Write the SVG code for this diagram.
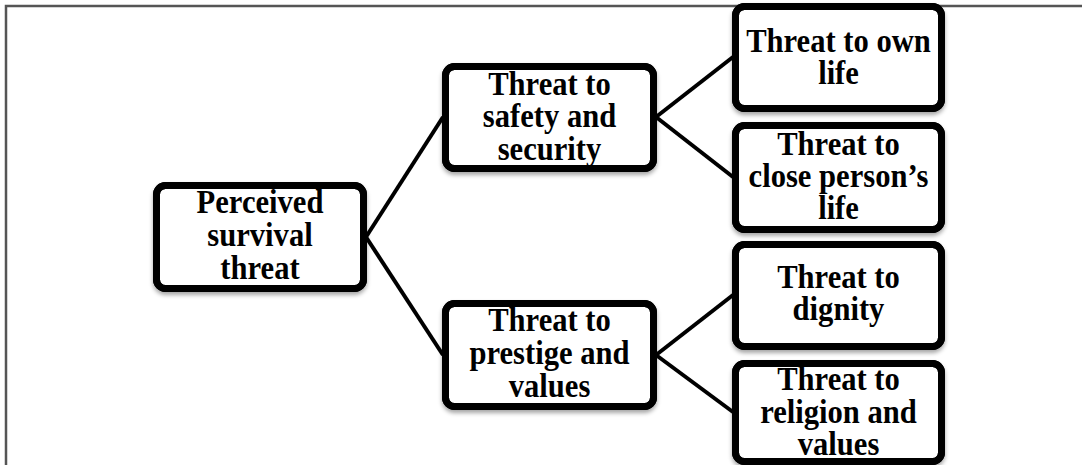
<svg xmlns="http://www.w3.org/2000/svg" width="1082" height="465" viewBox="0 0 1082 465">
  <defs>
    <filter id="shadow" x="-10%" y="-10%" width="120%" height="130%">
      <feDropShadow dx="0" dy="3" stdDeviation="2" flood-color="#000" flood-opacity="0.35"/>
    </filter>
  </defs>
  <style>
    .frame { fill: none; stroke: #555; stroke-width: 2.5; }
    .edge { stroke: #000; stroke-width: 4; fill: none; }
    .bg { fill: #fff; stroke: #000; stroke-width: 7; filter: url(#shadow); }
    .border { fill: none; stroke: #000; stroke-width: 7; }
    .label { font-family: "Liberation Serif", "Times New Roman", serif; font-weight: bold; font-size: 34px; fill: #000; text-anchor: middle; }
  </style>

  <!-- outer frame: top and left edges -->
  <path class="frame" d="M6,1082 V6 H1082"/>

  <g id="connectors">
    <line class="edge" x1="366" y1="237" x2="443" y2="117"/>
    <line class="edge" x1="366" y1="237" x2="443" y2="355"/>
    <line class="edge" x1="656" y1="117" x2="733" y2="57"/>
    <line class="edge" x1="656" y1="117" x2="733" y2="177"/>
    <line class="edge" x1="656" y1="355" x2="733" y2="295"/>
    <line class="edge" x1="656" y1="355" x2="733" y2="412"/>
  </g>

  <!-- labels are set in a slightly condensed serif (90% width) -->
  <g id="perceived-survival-threat">
    <rect class="bg" x="156.5" y="185.5" width="207" height="103" rx="9"/>
    <g transform="translate(260 0) scale(0.9 1)">
      <text class="label" x="0" y="213">Perceived</text>
      <text class="label" x="0" y="246">survival</text>
      <text class="label" x="0" y="279">threat</text>
    </g>
    <rect class="border" x="156.5" y="185.5" width="207" height="103" rx="9"/>
  </g>

  <g id="safety-security">
    <rect class="bg" x="445.5" y="66.5" width="208" height="102" rx="9"/>
    <g transform="translate(549.5 0) scale(0.9 1)">
      <text class="label" x="0" y="95">Threat to</text>
      <text class="label" x="0" y="127">safety and</text>
      <text class="label" x="0" y="160">security</text>
    </g>
    <rect class="border" x="445.5" y="66.5" width="208" height="102" rx="9"/>
  </g>

  <g id="prestige-values">
    <rect class="bg" x="445.5" y="303.5" width="208" height="103" rx="9"/>
    <g transform="translate(549.5 0) scale(0.9 1)">
      <text class="label" x="0" y="331">Threat to</text>
      <text class="label" x="0" y="364">prestige and</text>
      <text class="label" x="0" y="397">values</text>
    </g>
    <rect class="border" x="445.5" y="303.5" width="208" height="103" rx="9"/>
  </g>

  <g id="own-life">
    <rect class="bg" x="735.5" y="6.5" width="206" height="102" rx="9"/>
    <g transform="translate(838.5 0) scale(0.9 1)">
      <text class="label" x="0" y="52">Threat to own</text>
      <text class="label" x="0" y="84">life</text>
    </g>
    <rect class="border" x="735.5" y="6.5" width="206" height="102" rx="9"/>
  </g>

  <g id="close-person-life">
    <rect class="bg" x="735.5" y="125.5" width="206" height="104" rx="9"/>
    <g transform="translate(838.5 0) scale(0.9 1)">
      <text class="label" x="0" y="155">Threat to</text>
      <text class="label" x="0" y="187">close person’s</text>
      <text class="label" x="0" y="219">life</text>
    </g>
    <rect class="border" x="735.5" y="125.5" width="206" height="104" rx="9"/>
  </g>

  <g id="dignity">
    <rect class="bg" x="735.5" y="244.5" width="206" height="102" rx="9"/>
    <g transform="translate(838.5 0) scale(0.9 1)">
      <text class="label" x="0" y="288">Threat to</text>
      <text class="label" x="0" y="320">dignity</text>
    </g>
    <rect class="border" x="735.5" y="244.5" width="206" height="102" rx="9"/>
  </g>

  <g id="religion-values">
    <rect class="bg" x="735.5" y="363.5" width="206" height="98" rx="9"/>
    <g transform="translate(838.5 0) scale(0.9 1)">
      <text class="label" x="0" y="390">Threat to</text>
      <text class="label" x="0" y="423">religion and</text>
      <text class="label" x="0" y="455">values</text>
    </g>
    <rect class="border" x="735.5" y="363.5" width="206" height="98" rx="9"/>
  </g>
</svg>
